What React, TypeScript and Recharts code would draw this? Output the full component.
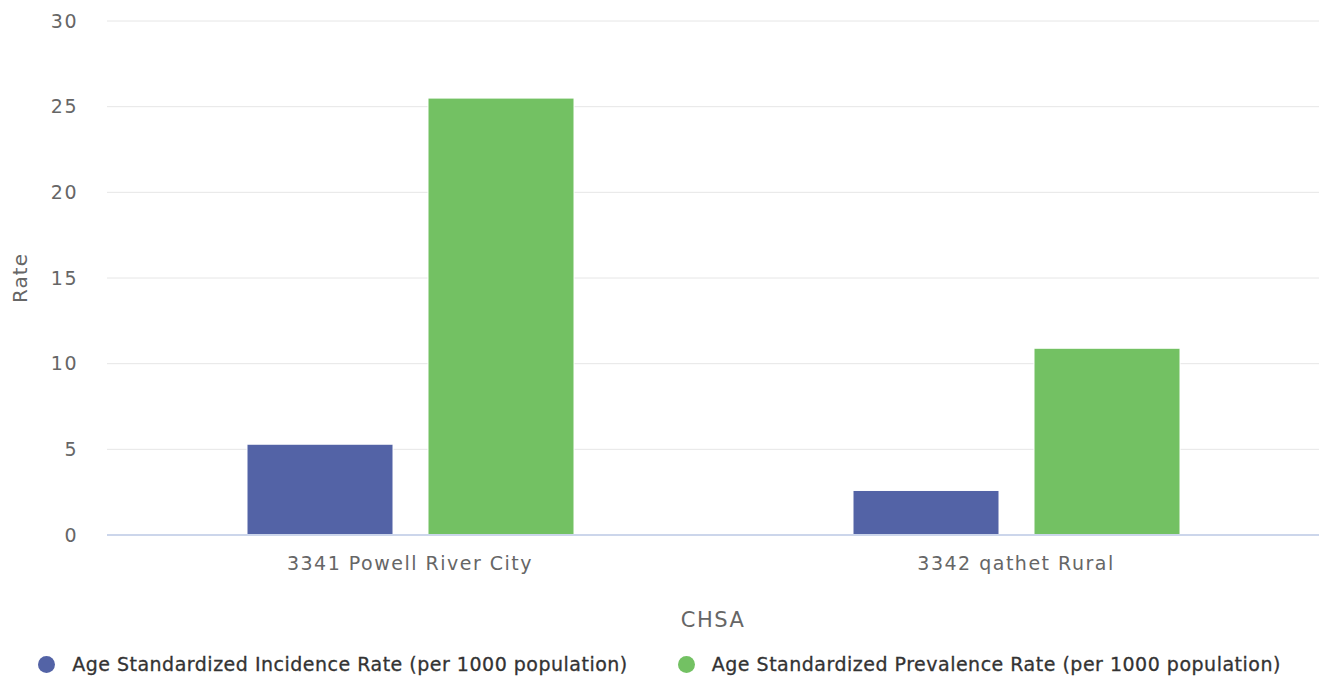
import React from 'react';
import { BarChart, Bar, XAxis, YAxis, CartesianGrid, Legend } from 'recharts';

const categories = ['3341 Powell River City', '3342 qathet Rural'];
const incidence = [5.3, 2.6];
const prevalence = [25.5, 10.9];
const yTicks = [0, 5, 10, 15, 20, 25, 30];

const INC_NAME = 'Age Standardized Incidence Rate (per 1000 population)';
const PREV_NAME = 'Age Standardized Prevalence Rate (per 1000 population)';
const INC_COLOR = '#5363a6';
const PREV_COLOR = '#73c163';
const FONT = '"DejaVu Sans", Verdana, sans-serif';

const data = categories.map((c, i) => ({
  name: c,
  incidence: incidence[i],
  prevalence: prevalence[i],
}));

const LegendContent = () => (
  <div
    style={{
      height: 42,
      display: 'flex',
      justifyContent: 'center',
      alignItems: 'flex-end',
      fontFamily: FONT,
      fontSize: 19,
      letterSpacing: 0.5,
      color: '#333',
      WebkitTextStroke: '0.3px #333',
    }}
  >
    {[
      { label: INC_NAME, color: INC_COLOR },
      { label: PREV_NAME, color: PREV_COLOR },
    ].map((it, i) => (
      <div
        key={it.label}
        style={{ display: 'flex', alignItems: 'center', marginLeft: i === 0 ? 0 : 50, height: 26 }}
      >
        <span
          style={{
            display: 'inline-block',
            width: 17,
            height: 17,
            borderRadius: '50%',
            background: it.color,
            marginRight: 17,
          }}
        />
        <span>{it.label}</span>
      </div>
    ))}
  </div>
);

// rotated y-axis title, centred on the plot height
const RateLabel = (props: any) => {
  const vb = props.viewBox || {};
  const cx = vb.x + 20;
  const cy = vb.y + vb.height / 2;
  return (
    <text
      x={cx}
      y={cy}
      transform={`rotate(-90, ${cx}, ${cy})`}
      textAnchor="middle"
      dominantBaseline="central"
      fill="#666"
      fontSize={20}
      fontFamily={FONT}
      letterSpacing={1}
    >
      Rate
    </text>
  );
};

export default function App() {
  return (
    <div style={{ position: 'absolute', left: 0, top: 0, width: 1319, height: 677, background: '#fff' }}>
      <BarChart
        width={1319}
        height={677}
        data={data}
        margin={{ top: 21, right: 0, left: 0, bottom: 0 }}
        barSize={146}
        barGap={35}
      >
        <CartesianGrid vertical={false} stroke="#e6e6e6" />
        <XAxis
          dataKey="name"
          height={100}
          tickLine={false}
          tickMargin={16}
          axisLine={{ stroke: '#ccd6eb', strokeWidth: 2 }}
          tick={{ fill: '#666', fontSize: 19, fontFamily: FONT, letterSpacing: 1.5 }}
          label={{ value: 'CHSA', position: 'insideBottom', offset: 8, fill: '#666', fontSize: 21, fontFamily: FONT, letterSpacing: 1.5 }}
        />
        <YAxis
          width={107}
          domain={[0, 30]}
          ticks={yTicks}
          axisLine={false}
          tickLine={false}
          tickMargin={23}
          tick={{ fill: '#666', fontSize: 19, fontFamily: FONT, letterSpacing: 1.5 }}
          label={{ content: RateLabel }}
        />
        <Legend verticalAlign="bottom" align="center" content={<LegendContent />} />
        <Bar dataKey="incidence" name={INC_NAME} fill={INC_COLOR} stroke="#fff" strokeWidth={1} isAnimationActive={false} />
        <Bar dataKey="prevalence" name={PREV_NAME} fill={PREV_COLOR} stroke="#fff" strokeWidth={1} isAnimationActive={false} />
      </BarChart>
    </div>
  );
}
